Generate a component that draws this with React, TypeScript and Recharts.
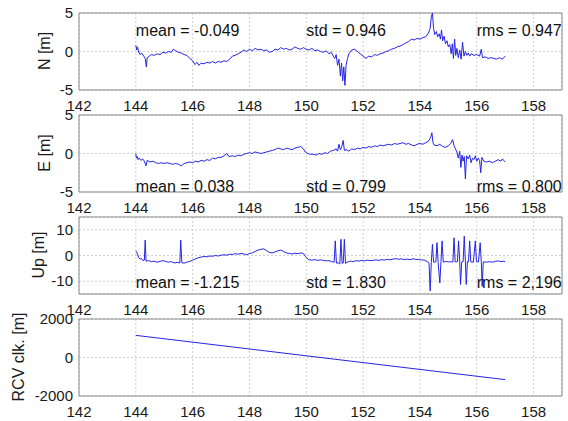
import {
  CartesianGrid,
  Line,
  LineChart,
  ReferenceArea,
  ReferenceDot,
  XAxis,
  YAxis,
} from "recharts";

// time of day [h], shared by all four panels
const timeTicks = [142, 144, 146, 148, 150, 152, 154, 156, 158];
const timeDomain: [number, number] = [142, 159];
const statTimes = [144, 150, 156];

// North error [m] as (time, value) pairs
const northPts: [number, number][] = [
  [144.0, 0.8], [144.03, 0.2], [144.06, 0.6], [144.1, -0.1], [144.15, -0.4], [144.2, -0.2],
  [144.28, -0.6], [144.33, -0.9], [144.37, -2.0], [144.4, -0.8], [144.48, -0.6], [144.55, -0.4],
  [144.65, -0.5], [144.75, -0.3], [144.85, -0.4], [144.95, -0.1], [145.05, -0.2], [145.15, 0.0],
  [145.25, -0.1], [145.32, 0.3], [145.4, 0.1], [145.5, -0.1], [145.6, -0.2], [145.7, -0.4],
  [145.8, -0.5], [145.9, -0.9], [146.0, -1.2], [146.08, -1.7], [146.15, -1.4], [146.22, -1.8],
  [146.3, -1.5], [146.4, -1.6], [146.5, -1.4], [146.6, -1.5], [146.7, -1.3], [146.8, -1.5],
  [146.9, -1.3], [147.0, -1.4], [147.1, -1.2], [147.2, -1.3], [147.3, -1.0], [147.4, -0.6],
  [147.5, -0.5], [147.6, -0.3], [147.7, -0.1], [147.8, 0.2], [147.9, 0.0], [148.0, 0.3],
  [148.1, 0.1], [148.2, 0.4], [148.3, 0.2], [148.4, 0.3], [148.5, 0.1], [148.6, 0.2],
  [148.7, -0.1], [148.8, 0.0], [148.9, 0.3], [149.0, 0.2], [149.1, 0.5], [149.2, 0.3],
  [149.3, 0.4], [149.4, 0.2], [149.5, 0.3], [149.6, 0.6], [149.7, 0.4], [149.8, 0.3],
  [149.9, 0.5], [150.0, 0.3], [150.1, 0.2], [150.2, 0.4], [150.3, 0.1], [150.4, 0.2],
  [150.5, 0.0], [150.6, -0.1], [150.7, 0.1], [150.8, -0.3], [150.88, -0.1], [150.95, -0.6],
  [151.0, -0.9], [151.05, -0.4], [151.1, -1.8], [151.15, -1.0], [151.2, -3.2], [151.24, -1.5],
  [151.28, -3.8], [151.32, -2.0], [151.36, -4.4], [151.4, -1.8], [151.45, -0.9], [151.5, -0.3],
  [151.6, 0.2], [151.7, 0.3], [151.8, 0.0], [151.9, -0.3], [152.0, -0.6], [152.1, -0.9],
  [152.2, -0.6], [152.3, -0.7], [152.4, -0.4], [152.5, -0.5], [152.6, -0.3], [152.7, -0.2],
  [152.8, 0.0], [152.9, 0.1], [153.0, 0.3], [153.1, 0.4], [153.2, 0.6], [153.3, 0.7],
  [153.4, 0.9], [153.5, 1.1], [153.6, 1.3], [153.7, 1.6], [153.8, 1.5], [153.9, 1.7],
  [154.0, 1.6], [154.1, 1.8], [154.2, 1.9], [154.3, 2.4], [154.36, 3.0], [154.4, 4.5],
  [154.44, 5.0], [154.48, 3.0], [154.52, 2.2], [154.58, 2.6], [154.62, 1.9], [154.68, 2.3],
  [154.72, 1.6], [154.76, 2.8], [154.8, 1.4], [154.85, 2.0], [154.9, 1.0], [154.95, 1.4],
  [155.0, 0.6], [155.05, 0.9], [155.1, -0.3], [155.14, 1.0], [155.18, -0.9], [155.22, 1.6],
  [155.26, -0.5], [155.3, 0.4], [155.35, -0.8], [155.4, 0.2], [155.45, -1.0], [155.5, 1.2],
  [155.55, -0.6], [155.6, 0.0], [155.65, -0.5], [155.7, -0.2], [155.75, -0.6], [155.8, -0.3],
  [155.9, -0.5], [156.0, -0.4], [156.1, -0.6], [156.16, 0.3], [156.2, -0.8], [156.3, -0.7],
  [156.4, -0.9], [156.5, -0.8], [156.6, -0.9], [156.7, -1.0], [156.8, -0.8], [156.9, -1.0],
  [157.0, -0.6],
];

// East error [m]
const eastPts: [number, number][] = [
  [144.0, 0.0], [144.02, -0.6], [144.05, -0.4], [144.08, -0.8], [144.12, -0.6], [144.18, -0.9],
  [144.24, -0.7], [144.3, -1.0], [144.36, -1.6], [144.4, -0.9], [144.5, -1.1], [144.6, -1.0],
  [144.7, -1.2], [144.8, -1.3], [144.9, -1.2], [145.0, -1.3], [145.1, -1.2], [145.2, -1.3],
  [145.3, -1.4], [145.4, -1.3], [145.5, -1.4], [145.6, -1.6], [145.7, -1.3], [145.8, -1.2],
  [145.9, -1.1], [146.0, -1.2], [146.1, -1.0], [146.2, -1.1], [146.3, -0.9], [146.4, -1.0],
  [146.5, -0.8], [146.6, -0.9], [146.7, -0.6], [146.8, -0.7], [146.9, -0.5], [147.0, -0.5],
  [147.1, -0.3], [147.2, 0.0], [147.28, -0.4], [147.4, -0.3], [147.5, -0.4], [147.6, -0.2],
  [147.7, -0.3], [147.8, -0.1], [147.9, 0.0], [148.0, 0.1], [148.1, 0.0], [148.2, 0.2],
  [148.3, 0.1], [148.4, 0.0], [148.5, 0.1], [148.6, 0.2], [148.7, 0.3], [148.8, 0.4],
  [148.9, 0.5], [149.0, 0.7], [149.1, 0.6], [149.2, 0.5], [149.3, 0.7], [149.4, 0.6],
  [149.5, 0.5], [149.6, 0.7], [149.7, 0.8], [149.8, 0.9], [149.9, 0.6], [149.96, 0.2],
  [150.05, 0.0], [150.15, -0.1], [150.25, -0.1], [150.35, -0.2], [150.45, 0.0], [150.55, -0.1],
  [150.65, 0.1], [150.75, 0.0], [150.85, 0.3], [150.95, 0.4], [151.05, 0.6], [151.1, 0.3],
  [151.15, 1.2], [151.2, 0.5], [151.25, 0.9], [151.3, 1.7], [151.34, 0.4], [151.4, 0.5],
  [151.5, 0.3], [151.6, 0.6], [151.7, 0.5], [151.8, 0.7], [151.9, 0.6], [152.0, 0.8],
  [152.1, 0.7], [152.2, 0.9], [152.3, 0.8], [152.4, 1.0], [152.5, 0.9], [152.6, 1.1],
  [152.7, 1.0], [152.8, 1.1], [152.9, 1.2], [153.0, 1.1], [153.1, 1.3], [153.2, 1.2],
  [153.3, 1.3], [153.4, 1.4], [153.5, 1.2], [153.6, 1.3], [153.7, 1.1], [153.8, 1.0],
  [153.9, 1.2], [154.0, 1.3], [154.1, 1.2], [154.2, 1.4], [154.3, 1.6], [154.38, 2.1],
  [154.42, 2.7], [154.46, 1.4], [154.5, 1.1], [154.6, 1.0], [154.7, 1.2], [154.8, 0.9],
  [154.9, 0.8], [155.0, 1.0], [155.08, 1.3], [155.15, 1.8], [155.2, 1.0], [155.25, 0.6],
  [155.3, 0.2], [155.35, -0.6], [155.4, 0.3], [155.44, -1.8], [155.48, -0.2], [155.52, -1.0],
  [155.56, -0.4], [155.6, -3.3], [155.64, -0.3], [155.7, -0.7], [155.75, -0.2], [155.8, -1.2],
  [155.85, -0.6], [155.9, -0.8], [155.95, -0.3], [156.0, -1.0], [156.05, -0.6], [156.1, -0.9],
  [156.14, -2.5], [156.18, -0.5], [156.25, -1.0], [156.35, -1.1], [156.45, -1.0], [156.55, -1.2],
  [156.65, -1.0], [156.75, -0.8], [156.85, -1.0], [156.9, -0.7], [157.0, -1.1],
];

// Up error [m]
const upPts: [number, number][] = [
  [144.0, 1.8], [144.05, 0.9], [144.1, -0.8], [144.15, -1.4], [144.2, -1.2], [144.25, -2.0],
  [144.3, -1.8], [144.33, 6.0], [144.36, -2.2], [144.45, -2.0], [144.55, -2.4], [144.65, -2.2],
  [144.75, -2.6], [144.85, -2.3], [144.95, -2.0], [145.05, -2.3], [145.15, -2.6], [145.25, -2.4],
  [145.35, -2.9], [145.45, -2.7], [145.55, -2.9], [145.58, 6.0], [145.62, -2.8], [145.7, -3.0],
  [145.8, -2.6], [145.9, -2.3], [146.0, -1.8], [146.1, -1.3], [146.2, -0.9], [146.3, -0.6],
  [146.4, -0.4], [146.5, -0.5], [146.6, -0.2], [146.7, -0.3], [146.8, 0.0], [146.9, -0.2],
  [147.0, 0.1], [147.1, 0.3], [147.2, 0.1], [147.3, 0.5], [147.4, 0.4], [147.5, 0.7],
  [147.6, 0.5], [147.7, 0.8], [147.8, 0.6], [147.9, 0.3], [148.0, 0.8], [148.1, 1.0],
  [148.2, 1.6], [148.3, 2.1], [148.4, 2.4], [148.5, 2.6], [148.6, 1.9], [148.7, 1.2],
  [148.8, 1.0], [148.9, 1.4], [149.0, 1.8], [149.1, 2.1], [149.2, 1.6], [149.3, 1.0],
  [149.4, 0.8], [149.5, 0.6], [149.6, 0.9], [149.7, 0.7], [149.8, 1.0], [149.9, 0.8],
  [150.0, -0.8], [150.08, -1.6], [150.2, -1.8], [150.3, -1.6], [150.4, -1.9], [150.5, -1.7],
  [150.6, -1.9], [150.7, -2.1], [150.8, -2.0], [150.9, -2.4], [150.98, -2.6], [151.02, 5.7],
  [151.06, -3.0], [151.12, -2.8], [151.18, -3.3], [151.22, 6.3], [151.26, -3.1], [151.3, -2.9],
  [151.34, 6.3], [151.38, -3.1], [151.44, -2.6], [151.55, -2.2], [151.65, -2.4], [151.75, -2.0],
  [151.85, -2.2], [151.95, -1.9], [152.05, -2.1], [152.15, -1.8], [152.25, -2.0], [152.35, -1.9],
  [152.45, -1.7], [152.55, -1.9], [152.65, -1.6], [152.75, -1.8], [152.85, -1.5], [152.95, -1.7],
  [153.05, -1.4], [153.15, -1.2], [153.25, -1.5], [153.35, -1.3], [153.45, -1.6], [153.55, -1.4],
  [153.65, -1.6], [153.75, -1.3], [153.85, -1.5], [153.95, -1.6], [154.05, -1.7], [154.15, -1.8],
  [154.25, -2.3], [154.32, -3.0], [154.36, -13.8], [154.4, -2.8], [154.44, 4.4], [154.48, -2.6],
  [154.56, -2.5], [154.6, 5.0], [154.64, -2.7], [154.7, -10.7], [154.74, -2.4], [154.78, 5.7],
  [154.82, -2.6], [154.9, -2.3], [155.0, -2.5], [155.1, -2.4], [155.16, -2.6], [155.2, 6.9],
  [155.24, -2.5], [155.32, -2.4], [155.36, 5.7], [155.4, -2.6], [155.43, -11.3], [155.47, -2.5],
  [155.52, -2.4], [155.56, 7.5], [155.6, -2.5], [155.63, -11.3], [155.67, -2.4], [155.71, -2.5],
  [155.75, 5.7], [155.79, -2.5], [155.88, -2.6], [155.95, 5.7], [155.99, -2.4], [156.06, -2.5],
  [156.12, 5.0], [156.16, -2.6], [156.19, -12.0], [156.23, -2.5], [156.35, -2.6], [156.45, -2.4],
  [156.55, -2.6], [156.65, -2.3], [156.75, -2.1], [156.85, -2.4], [156.95, -2.2], [157.0, -2.5],
];

// receiver clock offset [m]
const clockPts: [number, number][] = [
  [144.0, 1150],
  [157.0, -1150],
];

const northStats = ["mean = -0.049", "std = 0.946", "rms = 0.947"];
const eastStats = ["mean = 0.038", "std = 0.799", "rms = 0.800"];
const upStats = ["mean = -1.215", "std = 1.830", "rms = 2,196"];

type Panel = {
  label: string;
  labelX: number;
  points: [number, number][];
  domain: [number, number];
  ticks: number[];
  stats: string[];
  statY: number;
};

const panels: Panel[] = [
  { label: "N [m]", labelX: 45, points: northPts, domain: [-5, 5], ticks: [-5, 0, 5], stats: northStats, statY: 2.7 },
  { label: "E [m]", labelX: 45, points: eastPts, domain: [-5, 5], ticks: [-5, 0, 5], stats: eastStats, statY: -4.3 },
  { label: "Up [m]", labelX: 39, points: upPts, domain: [-15, 15], ticks: [-10, 0, 10], stats: upStats, statY: -10.5 },
  { label: "RCV clk. [m]", labelX: 19, points: clockPts, domain: [-2000, 2000], ticks: [-2000, 0, 2000], stats: [], statY: 0 },
];

const PANEL_TOP = 13;
const PANEL_STEP = 102;
const PLOT_H = 77;
const PAD_TOP = 12;
const XAXIS_H = 25;
const FONT = "'Liberation Sans', Arial, Helvetica, sans-serif";
const tickStyle = { fontSize: 15, fill: "#1a1a1a", fontFamily: FONT };

function PanelChart({ panel }: { panel: Panel }) {
  const data = panel.points.map(([t, v]) => ({ t, v }));
  return (
    <LineChart
      width={568}
      height={PAD_TOP + PLOT_H + XAXIS_H}
      data={data}
      margin={{ top: PAD_TOP, right: 6, bottom: 0, left: 0 }}
    >
      <CartesianGrid stroke="#cfcfcf" strokeDasharray="2 2" />
      <XAxis
        type="number"
        dataKey="t"
        domain={timeDomain}
        ticks={timeTicks}
        interval={0}
        allowDataOverflow
        axisLine={false}
        tickLine={false}
        tickMargin={4}
        height={XAXIS_H}
        tick={tickStyle}
      />
      <YAxis
        type="number"
        domain={panel.domain}
        ticks={panel.ticks}
        interval={0}
        allowDataOverflow
        axisLine={false}
        tickLine={false}
        tickMargin={0}
        width={79}
        tick={tickStyle}
      />
      <ReferenceArea
        x1={timeDomain[0]}
        x2={timeDomain[1]}
        y1={panel.domain[0]}
        y2={panel.domain[1]}
        fill="none"
        stroke="#8a8a8a"
        strokeWidth={1}
      />
      <Line
        type="linear"
        dataKey="v"
        stroke="#2424e6"
        strokeWidth={1}
        dot={false}
        isAnimationActive={false}
      />
      {panel.stats.map((s, i) => (
        <ReferenceDot
          key={s}
          x={statTimes[i]}
          y={panel.statY}
          r={0}
          fill="none"
          stroke="none"
          label={{ value: s, position: "right", offset: 0, fontSize: 16, fill: "#111", fontFamily: FONT }}
        />
      ))}
    </LineChart>
  );
}

export default function App() {
  return (
    <div
      style={{
        position: "absolute",
        left: 0,
        top: 0,
        width: 568,
        height: 421,
        background: "#fff",
        fontFamily: FONT,
        overflow: "hidden",
      }}
    >
      {panels.map((p, i) => {
        const top = PANEL_TOP + i * PANEL_STEP;
        return (
          <div key={p.label}>
            <div style={{ position: "absolute", left: 0, top: top - PAD_TOP }}>
              <PanelChart panel={p} />
            </div>
            {/* rotated axis title */}
            <div
              style={{
                position: "absolute",
                left: p.labelX,
                top: top + PLOT_H / 2 - 1,
                transform: "translate(-50%, -50%) rotate(-90deg)",
                whiteSpace: "nowrap",
                fontSize: 16,
                color: "#1a1a1a",
              }}
            >
              {p.label}
            </div>
          </div>
        );
      })}
    </div>
  );
}
